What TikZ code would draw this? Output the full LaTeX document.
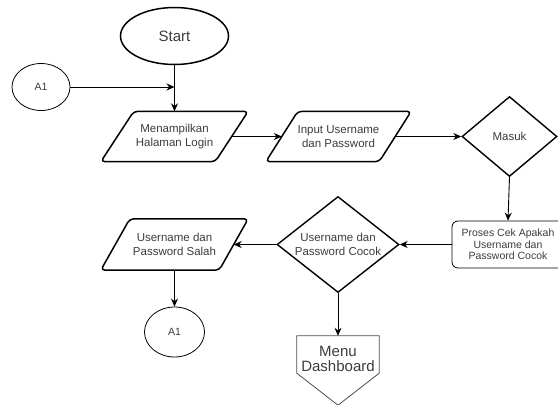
\documentclass[tikz,border=0pt]{standalone}
\usepackage{fontspec}
\setmainfont{Liberation Sans}
\usetikzlibrary{shapes.geometric,arrows.meta,calc}
\definecolor{txt}{RGB}{60,60,60}
\begin{document}
\begin{tikzpicture}[x=1pt,y=-1pt,
  every node/.style={text=txt,font=\fontsize{11.5}{14}\selectfont,align=center},
  arr/.style={draw=black,line width=0.9pt,-{Stealth[length=8pt,width=7pt]}},
  box/.style={draw=none,inner sep=0pt,minimum width=#1},
  para/.style={draw=black,line width=1.5pt,rounded corners=4pt,line join=round},
  dia/.style={diamond,draw=black,line width=1.4pt,inner sep=0pt},
  circ/.style={ellipse,draw=black,line width=0.8pt,inner sep=0pt}
]
\useasboundingbox (0,0) rectangle (558,405);

% Start
\node[ellipse,draw=black,line width=1.5pt,minimum width=108pt,minimum height=57pt,inner sep=0pt,font=\fontsize{15}{17}\selectfont] (start) at (174.5,36) {Start};

% A1 left
\node[circ,minimum width=58pt,minimum height=47pt,font=\fontsize{10.5}{12}\selectfont] (a1top) at (41,87) {A1};
\coordinate (j) at (174.5,87);

% Menampilkan
\node[box=114pt,minimum height=50pt] (menampil) at (174.5,136.5) {Menampilkan\\Halaman Login};
\draw[para] ([xshift=16.5pt]menampil.north west) -- ([xshift=16.5pt]menampil.north east)
  -- ([xshift=-16.5pt]menampil.south east) -- ([xshift=-16.5pt]menampil.south west) -- cycle;

% Input
\node[box=113pt,minimum height=50pt] (input) at (338.5,136.5) {Input Username\\dan Password};
\draw[para] ([xshift=16pt]input.north west) -- ([xshift=16pt]input.north east)
  -- ([xshift=-16pt]input.south east) -- ([xshift=-16pt]input.south west) -- cycle;

% Masuk
\node[dia,minimum width=95pt,minimum height=80pt] (masuk) at (509.5,136.5) {Masuk};

% Proses
\node[draw=black,line width=0.8pt,rounded corners=6pt,minimum width=112pt,minimum height=47pt,inner sep=0pt,
  font=\fontsize{10.5}{11.5}\selectfont] (proses) at (508,244.5) {Proses Cek Apakah\\Username dan\\Password Cocok};

% Cocok
\node[dia,minimum width=122pt,minimum height=96pt,aspect=1.27] (cocok) at (338,244.5) {Username dan\\Password Cocok};

% Salah
\node[box=118pt,minimum height=51pt] (salah) at (174.5,244.5) {Username dan\\Password Salah};
\draw[para] ([xshift=14.5pt]salah.north west) -- ([xshift=14.5pt]salah.north east)
  -- ([xshift=-14.5pt]salah.south east) -- ([xshift=-14.5pt]salah.south west) -- cycle;

% A1 bottom
\node[circ,minimum width=60pt,minimum height=50pt,font=\fontsize{10.5}{12}\selectfont] (a1bot) at (174.5,332) {A1};

% Menu Dashboard (off-page connector)
\node[box=82pt,minimum height=37pt] (menu) at (338,354.5) {};
\draw[draw=black!70,line width=0.8pt,line join=miter] (menu.north west) -- (menu.north east) -- (menu.south east)
  -- ($(menu.south)+(0,32)$) -- (menu.south west) -- cycle;
\node[font=\fontsize{15}{15.5}\selectfont] (menutext) at (338,359) {Menu\\Dashboard};

% connectors
\draw[arr] (start.south) -- (menampil.north);
\draw[arr] (a1top.east) -- (j);
\draw[arr] (menampil.east) -- (input.west);
\draw[arr] (input.east) -- (masuk.west);
\draw[arr] (masuk.south) -- (proses.north);
\draw[arr] (proses.west) -- (cocok.east);
\draw[arr] (cocok.west) -- (salah.east);
\draw[arr] (salah.south) -- (a1bot.north);
\draw[arr] (cocok.south) -- (menu.north);
\end{tikzpicture}
\end{document}
